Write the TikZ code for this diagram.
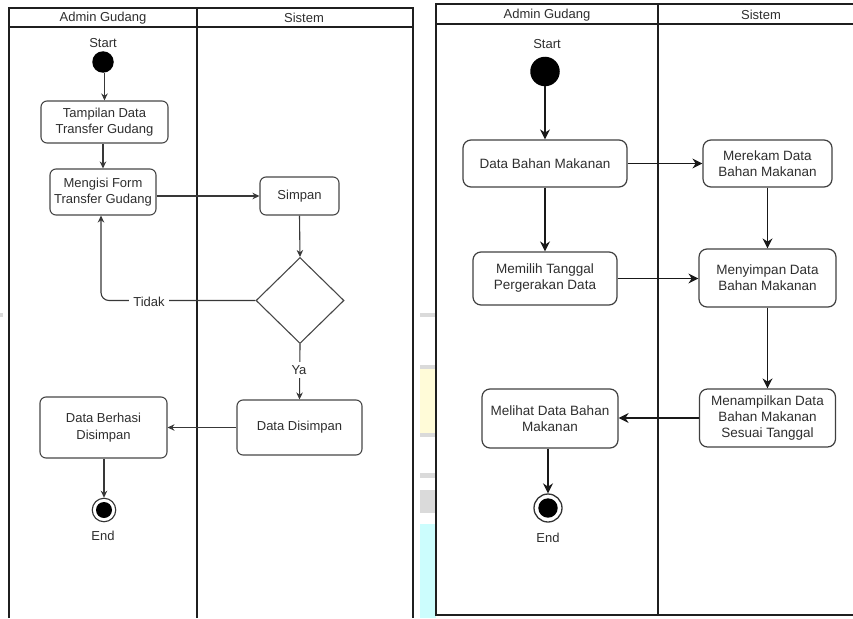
\documentclass[tikz,border=0pt]{standalone}
\usepackage{fontspec}
\setmainfont{Liberation Sans}
\usetikzlibrary{shapes.geometric,arrows.meta}
\definecolor{stripgray}{RGB}{218,218,218}
\definecolor{stripyellow}{RGB}{255,251,216}
\definecolor{stripcyan}{RGB}{204,253,253}

\begin{document}
\begin{tikzpicture}[x=1pt,y=-1pt,
  lane/.style={draw=black!88, line width=2pt},
  actL/.style={draw=black!72, line width=1.1pt, rounded corners=6pt, align=center,
    inner sep=0pt, font=\fontsize{13}{16.5}\selectfont, text=black!82},
  actR/.style={draw=black!75, line width=1.2pt, rounded corners=8pt, align=center,
    inner sep=0pt, font=\fontsize{13.5}{16}\selectfont, text=black!82},
  flowL/.style={draw=black!78, line width=1.1pt, -{Stealth[length=7pt,width=6.5pt]}},
  flowR/.style={draw=black!90, line width=1.5pt, -{Stealth[length=10pt,width=10pt]}},
  lbl/.style={font=\fontsize{13}{16}\selectfont, text=black!82},
  startdot/.style={circle, fill=black, inner sep=0pt},
  endring/.style={circle, draw=black!80, inner sep=0pt},
]
\useasboundingbox (0,0) rectangle (853,618);

% ---------- faint background strip between the two frames ----------
\fill[stripgray] (0,313) rectangle (3,317);
\fill[stripgray] (420,313) rectangle (436,317);
\fill[stripgray] (420,365) rectangle (436,369);
\fill[stripyellow] (420,369) rectangle (436,433);
\fill[stripgray] (420,433) rectangle (436,437);
\fill[stripgray] (420,473) rectangle (436,478);
\fill[stripgray] (420,490) rectangle (436,513);
\fill[stripcyan] (420,524) rectangle (436,618);

% ================= first swimlane: transfer gudang =================
\draw[lane] (9,618) -- (9,8) -- (412.5,8) -- (412.5,618);
\draw[lane] (9,27) -- (412.5,27);
\draw[lane] (197,8) -- (197,618);
\node[lbl] (hA1) at (103,18) {Admin Gudang};
\node[lbl] (hS1) at (304,18) {Sistem};

\node[lbl] (st1) at (103,43) {Start};
\node[startdot, minimum size=21.5pt] (s1) at (103,62) {};

\node[actL, minimum width=127pt, minimum height=42pt] (tampil) at (104.5,122)
  {Tampilan Data\\Transfer Gudang};
\node[actL, minimum width=106pt, minimum height=46pt] (isi) at (103,192)
  {Mengisi Form\\Transfer Gudang};
\node[actL, minimum width=79pt, minimum height=38pt] (simpan) at (299.5,196) {Simpan};
\node[diamond, draw=black!72, line width=1.1pt, inner sep=0pt, aspect=1.02,
  minimum width=88pt, minimum height=86pt] (cek) at (300,300.5) {};
\node[actL, minimum width=125pt, minimum height=55pt] (disimpan) at (299.5,427.5)
  {Data Disimpan};
\node[actL, minimum width=127pt, minimum height=61pt] (berhasil) at (103.5,427.5)
  {Data Berhasi\\Disimpan};
\node[endring, line width=1.1pt, minimum size=23.5pt] (e1) at (104,510) {};
\fill[black] (e1.center) circle (8);
\node[lbl] (en1) at (103,536) {End};

\draw[flowL] (s1.south -| tampil.north) -- (tampil.north);
\draw[flowL] (tampil.south -| isi.north) -- (isi.north);
\draw[flowL] (isi.east |- simpan.west) -- (simpan.west);
\draw[flowL] (simpan.south) -- (cek.north);
\draw[flowL, rounded corners=8pt] (cek.west) -| ([xshift=-2pt]isi.south);
\node[lbl, fill=white, inner sep=4pt] (tidak) at (149,302) {Tidak};
\draw[flowL] (cek.south) -- (disimpan.north);
\node[lbl, fill=white, inner sep=3pt] (ya) at (299,370) {Ya};
\draw[flowL] (disimpan.west) -- (berhasil.east);
\draw[flowL] (berhasil.south -| e1.north) -- (e1.north);

% ================= second swimlane: bahan makanan =================
\draw[lane] (853,4) -- (436,4) -- (436,614.5) -- (853,614.5);
\draw[lane] (436,24.5) -- (853,24.5);
\draw[lane] (658,4) -- (658,614.5);
\node[lbl] (hA2) at (547,15) {Admin Gudang};
\node[lbl] (hS2) at (761,15) {Sistem};

\node[lbl] (st2) at (547,44) {Start};
\node[startdot, minimum size=29.5pt] (s2) at (545,71.5) {};

\node[actR, minimum width=164pt, minimum height=47pt] (bahan) at (545,163.5)
  {Data Bahan Makanan};
\node[actR, minimum width=129pt, minimum height=47pt] (rekam) at (767.5,163.5)
  {Merekam Data\\Bahan Makanan};
\node[actR, minimum width=144pt, minimum height=53pt] (pilih) at (545,278.5)
  {Memilih Tanggal\\Pergerakan Data};
\node[actR, minimum width=137pt, minimum height=58pt] (simpan2) at (767.5,278)
  {Menyimpan Data\\Bahan Makanan};
\node[actR, minimum width=136pt, minimum height=58pt] (tampil2) at (767.5,418)
  {Menampilkan Data\\Bahan Makanan\\Sesuai Tanggal};
\node[actR, minimum width=136pt, minimum height=59pt] (lihat) at (550,418.5)
  {Melihat Data Bahan\\Makanan};
\node[endring, line width=1.3pt, minimum size=28pt] (e2) at (548,508) {};
\fill[black] (e2.center) circle (9.7);
\node[lbl] (en2) at (548,538) {End};

\draw[flowR] (s2.south) -- (bahan.north);
\draw[flowR] (bahan.east) -- (rekam.west);
\draw[flowR] (bahan.south) -- (pilih.north);
\draw[flowR] (rekam.south) -- (simpan2.north);
\draw[flowR] (pilih.east) -- (simpan2.west |- pilih.east);
\draw[flowR] (simpan2.south) -- (tampil2.north);
\draw[flowR] (tampil2.west) -- (lihat.east |- tampil2.west);
\draw[flowR] (lihat.south -| e2.north) -- (e2.north);
\end{tikzpicture}
\end{document}
